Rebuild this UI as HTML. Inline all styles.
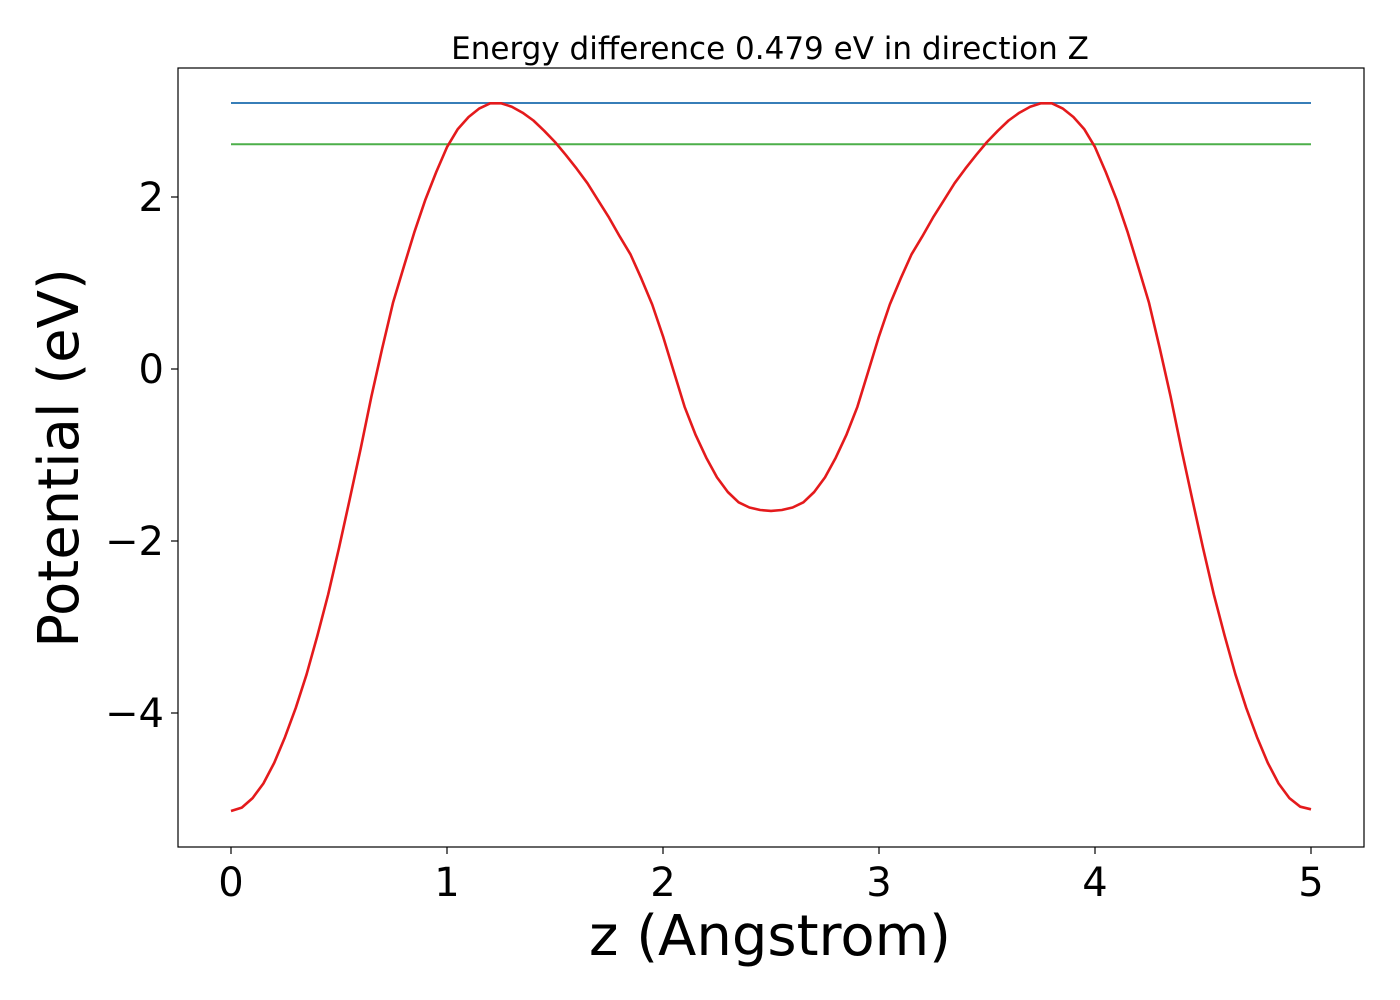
<!DOCTYPE html>
<html><head><meta charset="utf-8"><style>
body{margin:0;background:#fff;}
svg{display:block;font-family:"DejaVu Sans","Liberation Sans",sans-serif;}
</style></head><body>
<svg id="chart" width="1400" height="1000">
<rect x="0" y="0" width="1400" height="1000" fill="#fff"/>
<text x="770" y="59" font-size="31" text-anchor="middle">Energy difference 0.479 eV in direction Z</text>
<g id="plot"></g>
<rect x="178" y="68" width="1186" height="779" fill="none" stroke="#000" stroke-width="1.2"/>
<text x="770" y="955" font-size="56" text-anchor="middle">z (Angstrom)</text>
<text transform="translate(78,458) rotate(-90)" font-size="56" text-anchor="middle">Potential (eV)</text>
</svg>
<script>
const zValues=[0,0.05,0.1,0.15,0.2,0.25,0.3,0.35,0.4,0.45,0.5,0.55,0.6,0.65,0.7,0.75,0.8,0.85,0.9,0.95,1,1.05,1.1,1.15,1.2,1.25,1.3,1.35,1.4,1.45,1.5,1.55,1.6,1.65,1.7,1.75,1.8,1.85,1.9,1.95,2,2.05,2.1,2.15,2.2,2.25,2.3,2.35,2.4,2.45,2.5,2.55,2.6,2.65,2.7,2.75,2.8,2.85,2.9,2.95,3,3.05,3.1,3.15,3.2,3.25,3.3,3.35,3.4,3.45,3.5,3.55,3.6,3.65,3.7,3.75,3.8,3.85,3.9,3.95,4,4.05,4.1,4.15,4.2,4.25,4.3,4.35,4.4,4.45,4.5,4.55,4.6,4.65,4.7,4.75,4.8,4.85,4.9,4.95,5];
const potential=[-5.14,-5.10,-4.99,-4.82,-4.58,-4.28,-3.94,-3.55,-3.10,-2.62,-2.08,-1.51,-0.93,-0.32,0.24,0.77,1.19,1.60,1.97,2.29,2.58,2.79,2.93,3.03,3.09,3.09,3.05,2.98,2.89,2.77,2.64,2.49,2.33,2.16,1.96,1.76,1.54,1.33,1.05,0.75,0.38,-0.03,-0.44,-0.76,-1.03,-1.26,-1.43,-1.55,-1.61,-1.64,-1.65,
-1.64,-1.61,-1.55,-1.43,-1.26,-1.03,-0.76,-0.44,-0.03,0.38,0.75,1.05,1.33,1.54,1.76,1.96,2.16,2.33,2.49,2.64,2.77,2.89,2.98,3.05,3.09,3.09,3.03,2.93,2.79,2.58,2.29,1.97,1.60,1.19,0.77,0.24,-0.32,-0.93,-1.51,-2.08,-2.62,-3.10,-3.55,-3.94,-4.28,-4.58,-4.82,-4.99,-5.09,-5.12];
const maxEnergy=3.093;
const secondEnergy=2.614;
const xTicks=[0,1,2,3,4,5];
const yTicks=[2,0,-2,-4];
const yTickLabels=["2","0","\u22122","\u22124"];

const ns="http://www.w3.org/2000/svg";
const g=document.getElementById('plot');
const sx=v=>231+v*216;
const sy=v=>369-v*86;
function mk(t,a){const e=document.createElementNS(ns,t);for(const k in a)e.setAttribute(k,a[k]);g.appendChild(e);return e;}

xTicks.forEach(t=>{
  const l=mk('line',{x1:sx(t),x2:sx(t),y1:847,y2:854,stroke:'#000','stroke-width':1.2});
  
  
  const tx=mk('text',{x:sx(t),y:896,'font-size':40,'text-anchor':'middle'});
  tx.textContent=t;
  
  
});
yTicks.forEach((t,i)=>{
  const l=mk('line',{x1:171,x2:178,y1:sy(t),y2:sy(t),stroke:'#000','stroke-width':1.2});
  
  
  const tx=mk('text',{x:164,y:sy(t)+14,'font-size':40,'text-anchor':'end'});
  tx.textContent=yTickLabels[i];
  
  
});
const bl=mk('line',{x1:sx(zValues[0]),x2:sx(zValues[zValues.length-1]),y1:sy(maxEnergy),y2:sy(maxEnergy),stroke:'#377eb8','stroke-width':2});


const gl=mk('line',{x1:sx(zValues[0]),x2:sx(zValues[zValues.length-1]),y1:sy(secondEnergy),y2:sy(secondEnergy),stroke:'#4daf4a','stroke-width':2});


const pts=zValues.map((z,i)=>sx(z).toFixed(1)+','+sy(potential[i]).toFixed(1)).join(' ');
const pl=mk('polyline',{points:pts,fill:'none',stroke:'#e41a1c','stroke-width':2.6,'stroke-linejoin':'round'});


</script>
</body></html>
